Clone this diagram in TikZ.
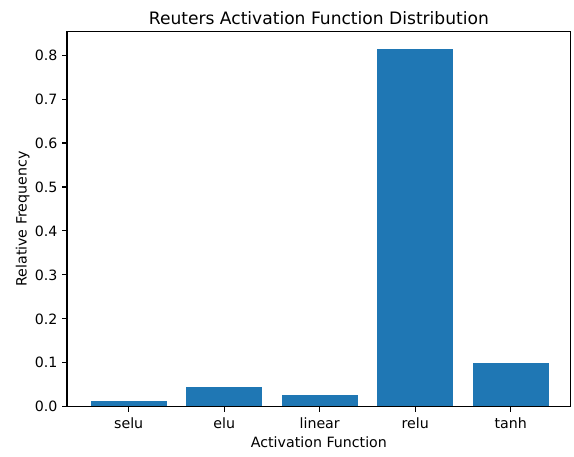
\documentclass[tikz,border=0pt]{standalone}
\usepackage{fontspec}
\setmainfont{DejaVu Sans}
\definecolor{barblue}{HTML}{1F77B4}
\begin{document}
\begin{tikzpicture}[x=1pt,y=-1pt,
  barbox/.style={fill=barblue,draw=none},
  spine/.style={draw=black,line width=1.1pt},
  tickmark/.style={draw=black,line width=1.1pt},
  ticklbl/.style={inner sep=0pt,font=\fontsize{14.2}{17}\selectfont},
  axlbl/.style={inner sep=0pt,font=\fontsize{14.2}{17}\selectfont},
  titlelbl/.style={inner sep=0pt,font=\fontsize{17.1}{20}\selectfont}]
\useasboundingbox (0,0) rectangle (574,456);
% bars
\foreach \i/\v/\nm in {0/0.013/selu,1/0.044/elu,2/0.0266/linear,3/0.814/relu,4/0.0994/tanh}{
  \pgfmathsetmacro{\xc}{128.7+95.5*\i}
  \pgfmathsetmacro{\yt}{406.7-439.5*\v}
  \fill[barbox] (\xc-38.2,406.7) rectangle (\xc+38.2,\yt);
  \draw[tickmark] (\xc,406.7) -- (\xc,411.7);
  \node[ticklbl,anchor=base] (xl\i) at (\xc,428) {\nm};
}
% y ticks
\foreach \k in {0,...,8}{
  \pgfmathsetmacro{\yy}{406.7-43.95*\k}
  \draw[tickmark] (67,\yy) -- (62,\yy);
  \node[ticklbl,anchor=base east] (yl\k) at (57.7,\yy+5.2) {0.\k};
}
% spines
\draw[spine] (67,31.3) rectangle (570.7,406.7);
% labels
\node[axlbl,anchor=base] (xlab) at (318.9,447.7) {Activation Function};
\node[axlbl,anchor=base,rotate=90] (ylab) at (26.7,219) {Relative Frequency};
\node[titlelbl,anchor=base] (title) at (318.9,24) {Reuters Activation Function Distribution};
\end{tikzpicture}
\end{document}
